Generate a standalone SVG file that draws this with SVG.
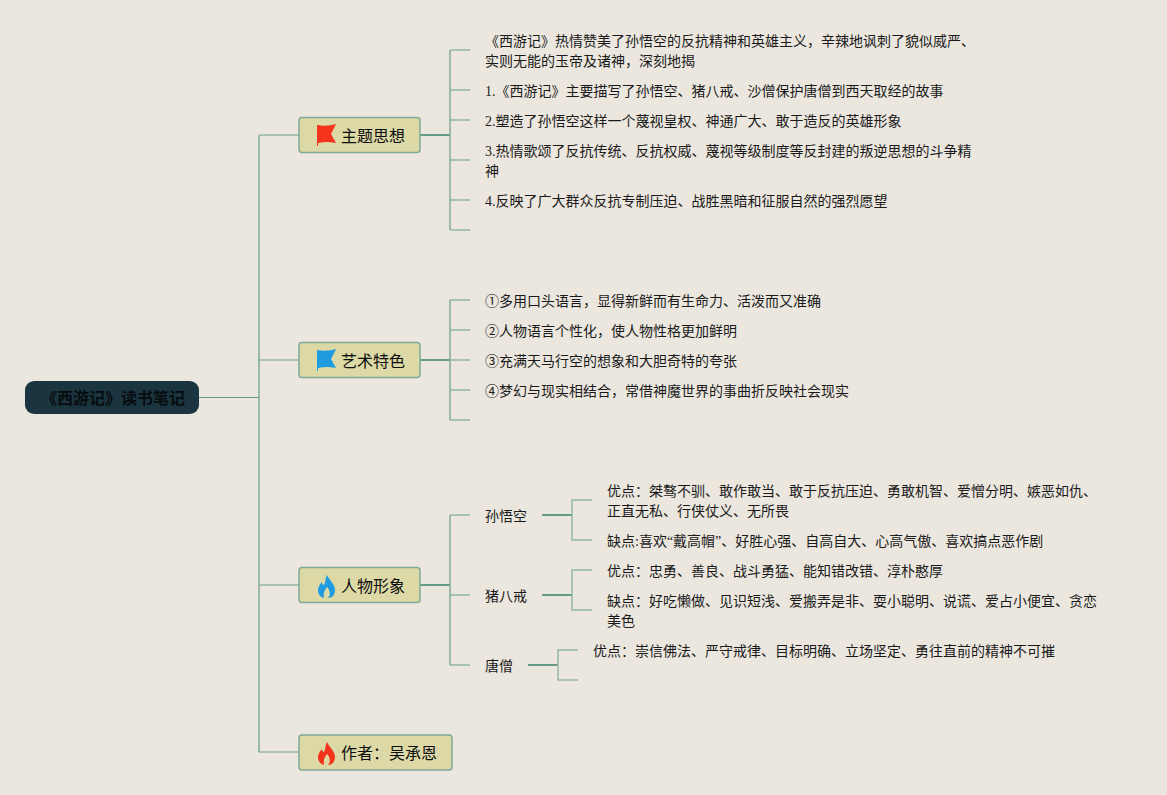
<svg xmlns="http://www.w3.org/2000/svg" width="1167" height="795" viewBox="0 0 1167 795">
<style>
text{font-family:"Liberation Serif","Noto Sans CJK SC",sans-serif;font-size:14px;fill:#1a1a1a}
.main{font-size:16px;fill:#0d0d0d}
.root{font-size:16px;font-weight:bold;fill:#070c0e}
.mn{fill:#dcd9a6;stroke:#7fa997;stroke-width:1.5}
.c{fill:none;stroke:#93b6a5;stroke-width:1.5}
.d{fill:none;stroke:#659b88;stroke-width:2}
.t{fill:none;stroke:#5f9a88;stroke-width:1.2}
.v{fill:none;stroke:#82ab9b;stroke-width:1.5}
</style>
<rect width="1167" height="795" fill="#ebe7df"/>
<g id="connectors">
<path class="t" d="M199 397.500H259"/>
<path class="c" d="M299 135H259M299 752H259M299 360H259M299 585H259"/>
<path class="v" d="M259 135V752"/>
<path class="d" d="M420 135H450M420 360H450M420 585H450"/>
<path class="c" d="M470 50H450M470 230H450M450 90H470M450 120H470M450 160H470M450 200H470"/>
<path class="c" d="M470 300H450M470 420H450M450 330H470M450 360H470M450 390H470"/>
<path class="c" d="M470 515H450M470 665H450M450 595H470"/>
<path class="v" d="M450 50V230M450 300V420M450 515V665"/>
<path class="d" d="M542 515H572M542 595H572M528 665H558"/>
<path class="c" d="M592 500H572V540H592M592 570H572V610H592M578 650H558V680H578"/>
</g>
<g id="root"><rect x="25" y="381" width="174" height="33" rx="9" fill="#1b3540"/><text class="root" x="41" y="404">《西游记》读书笔记</text></g>
<g id="node-theme"><rect class="mn" x="299" y="117.500" width="121" height="35" rx="3"/><path d="M317 125Q327 127 336 124L331 134L336 143Q327 141 318 143V146H317Z" fill="#f4331c"/><text class="main" x="341" y="142">主题思想</text></g>
<g id="node-art"><rect class="mn" x="299" y="342.500" width="121" height="35" rx="3"/><path d="M317 350Q327 352 336 349L331 359L336 368Q327 366 318 368V371H317Z" fill="#1f9be0"/><text class="main" x="341" y="367">艺术特色</text></g>
<g id="node-char"><rect class="mn" x="299" y="567.500" width="121" height="35" rx="3"/><path d="M327 575C329 580 335 584 335 590C335 595 332 598 328 598C331 595 330 590 327 587C325 590 323 592 324 598C320 597 318 594 318 590C318 587 320 584 322 582C322 584 323 585 324 585C326 582 325 578 327 575Z" fill="#1f9be0"/><text class="main" x="341" y="592">人物形象</text></g>
<g id="node-author"><rect class="mn" x="299" y="735" width="153" height="35" rx="3"/><path d="M327 742C329 747 335 751 335 757C335 762 332 765 328 765C331 762 330 757 327 754C325 757 323 759 324 765C320 764 318 761 318 757C318 754 320 751 322 749C322 751 323 752 324 752C326 749 325 745 327 742Z" fill="#f4331c"/><text class="main" x="341" y="759">作者：吴承恩</text></g>
<g id="theme-items">
<text x="485" y="46">《西游记》热情赞美了孙悟空的反抗精神和英雄主义，辛辣地讽刺了貌似威严、</text>
<text x="485" y="66">实则无能的玉帝及诸神，深刻地揭</text>
<text x="485" y="96">1.《西游记》主要描写了孙悟空、猪八戒、沙僧保护唐僧到西天取经的故事</text>
<text x="485" y="126">2.塑造了孙悟空这样一个蔑视皇权、神通广大、敢于造反的英雄形象</text>
<text x="485" y="156">3.热情歌颂了反抗传统、反抗权威、蔑视等级制度等反封建的叛逆思想的斗争精</text>
<text x="485" y="176">神</text>
<text x="485" y="206">4.反映了广大群众反抗专制压迫、战胜黑暗和征服自然的强烈愿望</text>
</g>
<g id="art-items">
<text x="485" y="306">①多用口头语言，显得新鲜而有生命力、活泼而又准确</text>
<text x="485" y="336">②人物语言个性化，使人物性格更加鲜明</text>
<text x="485" y="366">③充满天马行空的想象和大胆奇特的夸张</text>
<text x="485" y="396">④梦幻与现实相结合，常借神魔世界的事曲折反映社会现实</text>
</g>
<g id="char-items">
<text x="485" y="521">孙悟空</text>
<text x="485" y="601">猪八戒</text>
<text x="485" y="671">唐僧</text>
<text x="607" y="496">优点：桀骜不驯、敢作敢当、敢于反抗压迫、勇敢机智、爱憎分明、嫉恶如仇、</text>
<text x="607" y="516">正直无私、行侠仗义、无所畏</text>
<text x="607" y="546">缺点:喜欢“戴高帽”、好胜心强、自高自大、心高气傲、喜欢搞点恶作剧</text>
<text x="607" y="576">优点：忠勇、善良、战斗勇猛、能知错改错、淳朴憨厚</text>
<text x="607" y="606">缺点：好吃懒做、见识短浅、爱搬弄是非、耍小聪明、说谎、爱占小便宜、贪恋</text>
<text x="607" y="626">美色</text>
<text x="593" y="656">优点：崇信佛法、严守戒律、目标明确、立场坚定、勇往直前的精神不可摧</text>
</g>
</svg>
